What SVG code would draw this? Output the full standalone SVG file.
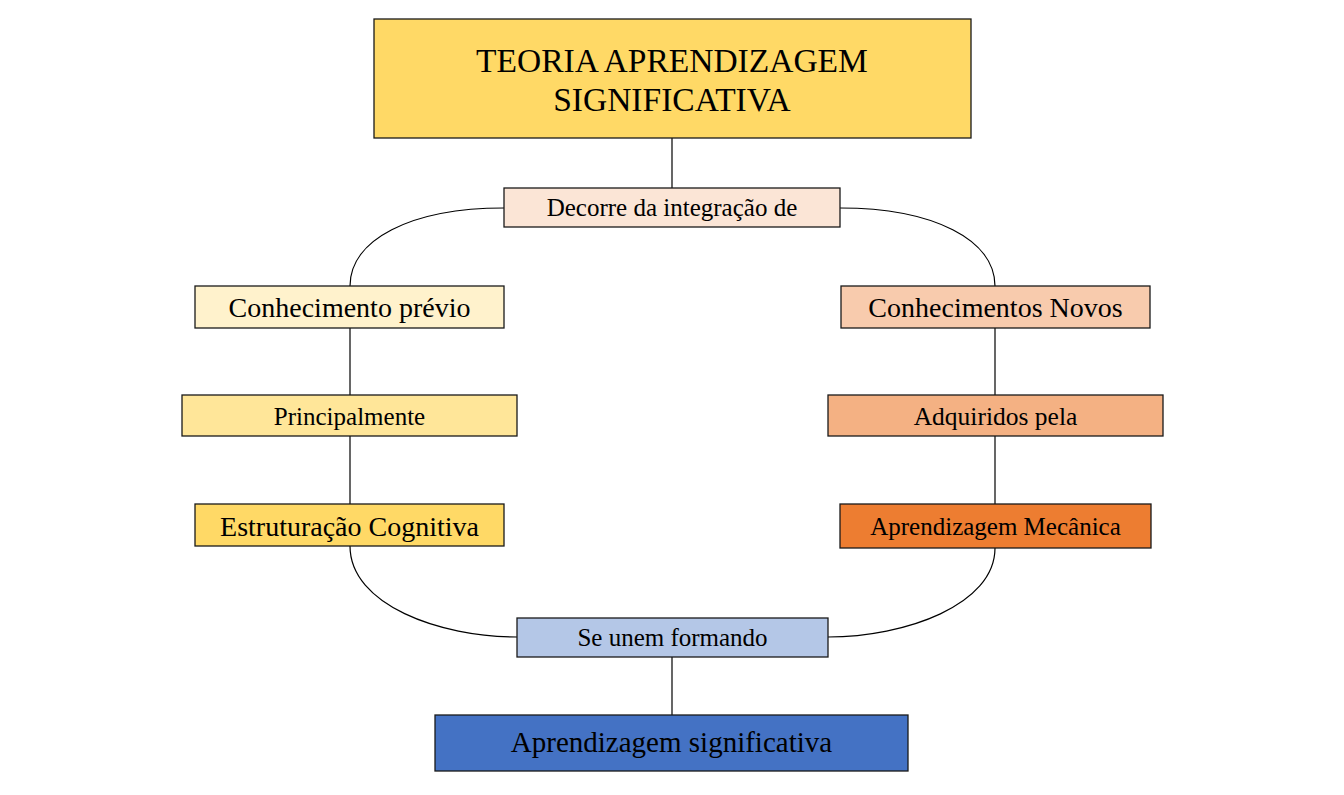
<svg xmlns="http://www.w3.org/2000/svg" width="1344" height="795" viewBox="0 0 1344 795">
<style>
  .box { stroke: #1a1a1a; stroke-width: 1.3; }
  .t { font-family: "Liberation Serif", "Times New Roman", serif; fill: #000; text-anchor: middle; }
  .c { fill: none; stroke: #000; stroke-width: 1.2; }
</style>
<rect width="1344" height="795" fill="#fff"/>
<g id="connectors">
  <line class="c" x1="672" y1="138" x2="672" y2="188"/>
  <path class="c" d="M504,208 C410,208 350,240 350,286"/>
  <path class="c" d="M840,208 C934,208 995,240 995,286"/>
  <line class="c" x1="350" y1="328" x2="350" y2="395"/>
  <line class="c" x1="350" y1="436" x2="350" y2="504"/>
  <line class="c" x1="995" y1="328" x2="995" y2="395"/>
  <line class="c" x1="995" y1="436" x2="995" y2="504"/>
  <path class="c" d="M350,546 C350,605 440,637 517,637"/>
  <path class="c" d="M995,548 C995,605 905,637 828,637"/>
  <line class="c" x1="672" y1="657" x2="672" y2="715"/>
</g>
<g id="n-teoria">
  <rect class="box" x="374" y="19" width="597" height="119" fill="#FFD966"/>
  <text class="t" x="672" y="72" font-size="33.5">TEORIA APRENDIZAGEM</text>
  <text class="t" x="672" y="111" font-size="33.5">SIGNIFICATIVA</text>
</g>
<g id="n-decorre">
  <rect class="box" x="504" y="188" width="336" height="39" fill="#FBE5D6"/>
  <text class="t" x="672" y="216" font-size="25">Decorre da integração de</text>
</g>
<g id="n-previo">
  <rect class="box" x="195" y="286" width="309" height="42" fill="#FFF2CC"/>
  <text class="t" x="349.5" y="317" font-size="28">Conhecimento prévio</text>
</g>
<g id="n-principalmente">
  <rect class="box" x="182" y="395" width="335" height="41" fill="#FFE699"/>
  <text class="t" x="349.5" y="425" font-size="25">Principalmente</text>
</g>
<g id="n-estruturacao">
  <rect class="box" x="195" y="504" width="309" height="42" fill="#FFD966"/>
  <text class="t" x="349.5" y="536" font-size="28">Estruturação Cognitiva</text>
</g>
<g id="n-novos">
  <rect class="box" x="841" y="286" width="309" height="42" fill="#F8CBAD"/>
  <text class="t" x="995.5" y="317" font-size="28">Conhecimentos Novos</text>
</g>
<g id="n-adquiridos">
  <rect class="box" x="828" y="395" width="335" height="41" fill="#F4B183"/>
  <text class="t" x="995.5" y="425" font-size="25.5">Adquiridos pela</text>
</g>
<g id="n-mecanica">
  <rect class="box" x="840" y="504" width="311" height="44" fill="#ED7D31"/>
  <text class="t" x="995.5" y="535" font-size="25">Aprendizagem Mecânica</text>
</g>
<g id="n-unem">
  <rect class="box" x="517" y="618" width="311" height="39" fill="#B4C7E7"/>
  <text class="t" x="672.5" y="646" font-size="25">Se unem formando</text>
</g>
<g id="n-significativa">
  <rect class="box" x="435" y="715" width="473" height="56" fill="#4472C4"/>
  <text class="t" x="671.5" y="752" font-size="29">Aprendizagem significativa</text>
</g>
</svg>
